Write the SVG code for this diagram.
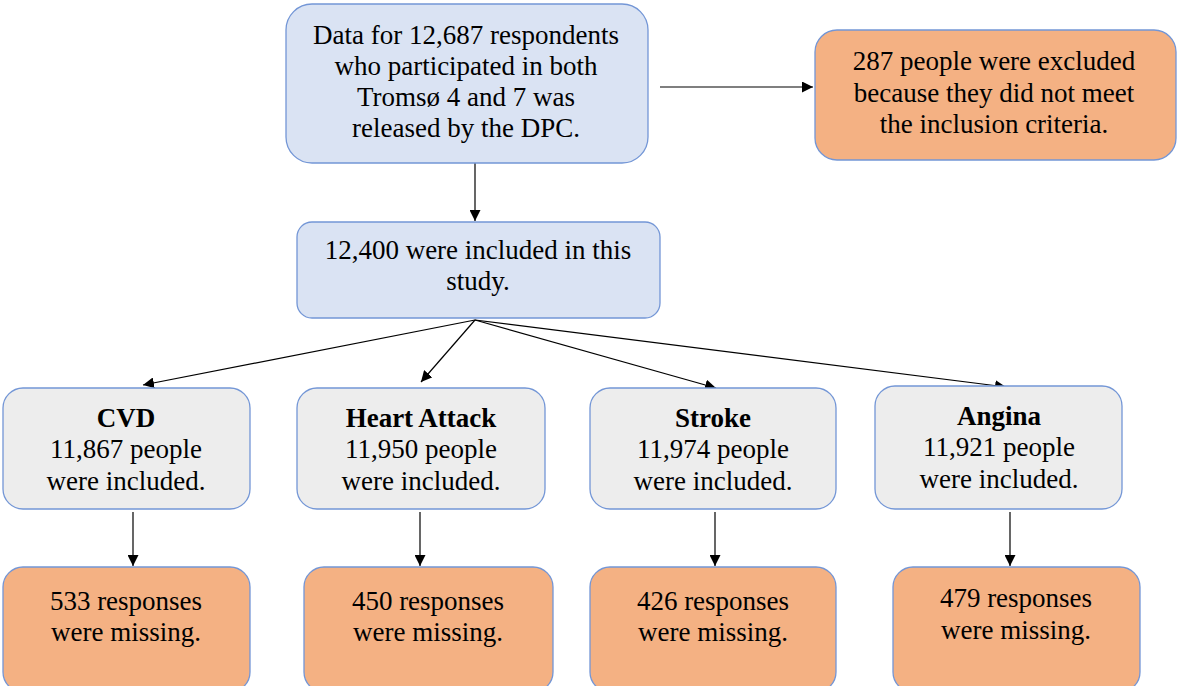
<svg xmlns="http://www.w3.org/2000/svg" width="1177" height="686" viewBox="0 0 1177 686">
<style>
text{font-family:'Liberation Serif','Times New Roman',serif;font-size:27px;fill:#000;text-anchor:middle}
.b{font-weight:bold}
.blue{fill:#dae3f3;stroke:#7396d6;stroke-width:1.3}
.grey{fill:#ededed;stroke:#7396d6;stroke-width:1.3}
.org{fill:#f4b183;stroke:#7396d6;stroke-width:1.3}
.c{stroke:#000;stroke-width:1.2;fill:none;marker-end:url(#ah)}
</style>
<defs>
<marker id="ah" viewBox="0 0 10 10" refX="10" refY="5" markerWidth="11" markerHeight="11" markerUnits="userSpaceOnUse" orient="auto">
<path d="M0,0 L10,5 L0,10 z" fill="#000"/>
</marker>
</defs>
<rect width="1177" height="686" fill="#fff"/>
<g id="connectors">
<line class="c" x1="475" y1="163" x2="475" y2="221"/>
<line class="c" x1="660" y1="87" x2="813" y2="87"/>
<line class="c" x1="475" y1="320" x2="143" y2="385"/>
<line class="c" x1="475" y1="320" x2="421" y2="382"/>
<line class="c" x1="475" y1="320" x2="716" y2="388"/>
<line class="c" x1="475" y1="320" x2="1006" y2="387"/>
<line class="c" x1="133" y1="512" x2="133" y2="566"/>
<line class="c" x1="420" y1="512" x2="420" y2="566"/>
<line class="c" x1="715" y1="512" x2="715" y2="566"/>
<line class="c" x1="1010" y1="512" x2="1010" y2="566"/>
</g>
<g id="n-data">
<rect class="blue" x="286" y="4" width="362" height="159" rx="26"/>
<text x="466" y="44">Data for 12,687 respondents</text>
<text x="466" y="75">who participated in both</text>
<text x="466" y="106">Tromsø 4 and 7 was</text>
<text x="466" y="137">released by the DPC.</text>
</g>
<g id="n-excluded">
<rect class="org" x="815" y="30" width="361" height="130" rx="22"/>
<text x="994" y="70">287 people were excluded</text>
<text x="994" y="102">because they did not meet</text>
<text x="994" y="133">the inclusion criteria.</text>
</g>
<g id="n-included">
<rect class="blue" x="297" y="222" width="363" height="96" rx="15"/>
<text x="478" y="259">12,400 were included in this</text>
<text x="478" y="290">study.</text>
</g>
<g id="n-cvd">
<rect class="grey" x="3" y="388" width="247" height="121" rx="20"/>
<text class="b" x="126" y="427">CVD</text>
<text x="126" y="458">11,867 people</text>
<text x="126" y="490">were included.</text>
</g>
<g id="n-ha">
<rect class="grey" x="297" y="388" width="248" height="121" rx="20"/>
<text class="b" x="421" y="427">Heart Attack</text>
<text x="421" y="458">11,950 people</text>
<text x="421" y="490">were included.</text>
</g>
<g id="n-stroke">
<rect class="grey" x="590" y="388" width="246" height="121" rx="20"/>
<text class="b" x="713" y="427">Stroke</text>
<text x="713" y="458">11,974 people</text>
<text x="713" y="490">were included.</text>
</g>
<g id="n-angina">
<rect class="grey" x="875" y="386" width="247" height="123" rx="20"/>
<text class="b" x="999" y="425">Angina</text>
<text x="999" y="456">11,921 people</text>
<text x="999" y="488">were included.</text>
</g>
<g id="m-cvd">
<rect class="org" x="3" y="567" width="247" height="125" rx="20"/>
<text x="126" y="610">533 responses</text>
<text x="126" y="641">were missing.</text>
</g>
<g id="m-ha">
<rect class="org" x="304" y="567" width="249" height="125" rx="20"/>
<text x="428" y="610">450 responses</text>
<text x="428" y="641">were missing.</text>
</g>
<g id="m-stroke">
<rect class="org" x="590" y="567" width="246" height="125" rx="20"/>
<text x="713" y="610">426 responses</text>
<text x="713" y="641">were missing.</text>
</g>
<g id="m-angina">
<rect class="org" x="893" y="567" width="247" height="125" rx="20"/>
<text x="1016" y="607">479 responses</text>
<text x="1016" y="639">were missing.</text>
</g>
</svg>
